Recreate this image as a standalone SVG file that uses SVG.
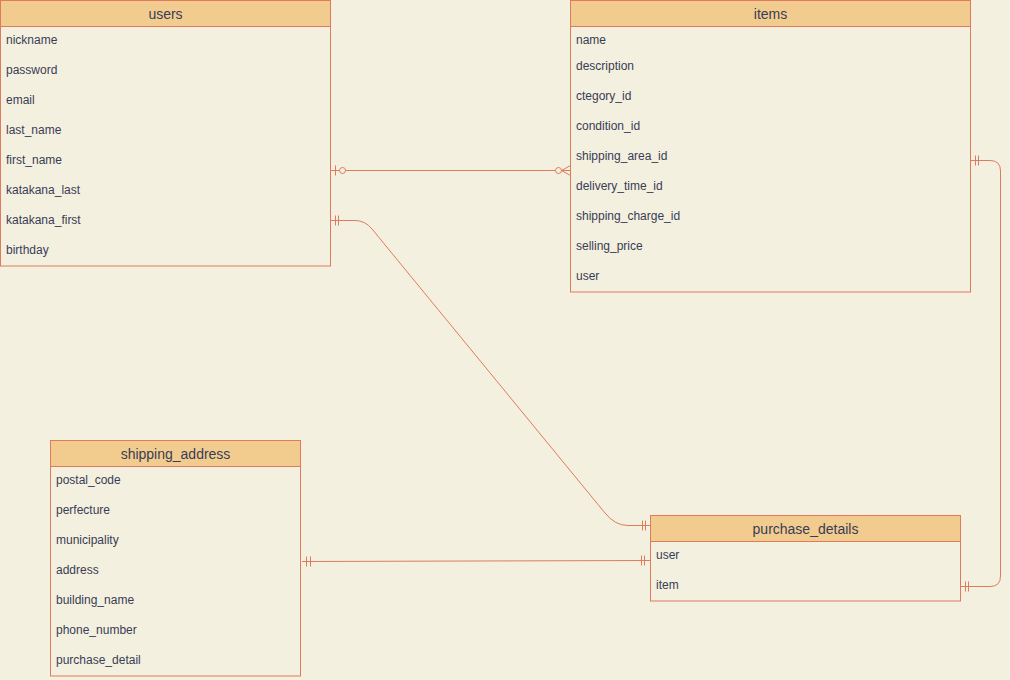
<svg xmlns="http://www.w3.org/2000/svg" width="1010" height="680" viewBox="0 0 1010 680">
<style>
.box{fill:#F4F0DF;stroke:#E07A5F;stroke-width:1}
.hdr{fill:#F2CC8F;stroke:#E07A5F;stroke-width:1}
.t{font-family:"Liberation Sans",Arial,sans-serif;font-size:12px;fill:#393C56}
.h{font-family:"Liberation Sans",Arial,sans-serif;font-size:14px;fill:#393C56;text-anchor:middle}
.c{fill:none;stroke:#E07A5F;stroke-width:1}
.o{fill:#F4F0DF;stroke:#E07A5F;stroke-width:1}
</style>
<rect width="1010" height="680" fill="#F4F0DF"/>
<g id="users">
<rect class="box" x="0.5" y="0.5" width="330" height="265.5"/>
<rect class="hdr" x="0.5" y="0.5" width="330" height="26"/>
<text class="h" x="165.5" y="19">users</text>
<text class="t" x="6" y="44">nickname</text>
<text class="t" x="6" y="74">password</text>
<text class="t" x="6" y="104">email</text>
<text class="t" x="6" y="134">last_name</text>
<text class="t" x="6" y="164">first_name</text>
<text class="t" x="6" y="194">katakana_last</text>
<text class="t" x="6" y="224">katakana_first</text>
<text class="t" x="6" y="254">birthday</text>
</g>
<g id="items">
<rect class="box" x="570.5" y="0.5" width="400" height="291.5"/>
<rect class="hdr" x="570.5" y="0.5" width="400" height="26"/>
<text class="h" x="770.5" y="19">items</text>
<text class="t" x="576" y="44">name</text>
<text class="t" x="576" y="70">description</text>
<text class="t" x="576" y="100">ctegory_id</text>
<text class="t" x="576" y="130">condition_id</text>
<text class="t" x="576" y="160">shipping_area_id</text>
<text class="t" x="576" y="190">delivery_time_id</text>
<text class="t" x="576" y="220">shipping_charge_id</text>
<text class="t" x="576" y="250">selling_price</text>
<text class="t" x="576" y="280">user</text>
</g>
<g id="shipping_address">
<rect class="box" x="50.5" y="440.5" width="250" height="235.5"/>
<rect class="hdr" x="50.5" y="440.5" width="250" height="26"/>
<text class="h" x="175.5" y="459">shipping_address</text>
<text class="t" x="56" y="484">postal_code</text>
<text class="t" x="56" y="514">perfecture</text>
<text class="t" x="56" y="544">municipality</text>
<text class="t" x="56" y="574">address</text>
<text class="t" x="56" y="604">building_name</text>
<text class="t" x="56" y="634">phone_number</text>
<text class="t" x="56" y="664">purchase_detail</text>
</g>
<g id="purchase_details">
<rect class="box" x="650.5" y="515.5" width="310" height="85.5"/>
<rect class="hdr" x="650.5" y="515.5" width="310" height="26"/>
<text class="h" x="805.5" y="534">purchase_details</text>
<text class="t" x="656" y="559">user</text>
<text class="t" x="656" y="589">item</text>
</g>
<g id="connectors">
<!-- users - items -->
<path class="c" d="M330.5 170.5 H558"/>
<path class="c" d="M335.5 165.5 V175.5"/>
<circle class="o" cx="342.5" cy="170.5" r="3"/>
<circle class="o" cx="558.5" cy="170.5" r="3"/>
<path class="c" d="M561.5 170.5 L570.5 165.5 M561.5 170.5 L570.5 175.5 M561.5 170.5 H570.5"/>
<!-- users katakana_first - purchase_details -->
<path class="c" d="M330.5 220.5 H355 Q365 220.5 372 229 L605 513 Q615 525.5 628 525.5 H650.5"/>
<path class="c" d="M335.5 215.5 V225.5 M338.5 215.5 V225.5"/>
<path class="c" d="M642.5 520.5 V530.5 M645.5 520.5 V530.5"/>
<!-- items - purchase_details item -->
<path class="c" d="M970.5 160.5 H990 Q1000.5 160.5 1000.5 171 V576 Q1000.5 586.5 990 586.5 H960.5"/>
<path class="c" d="M975.5 155.5 V165.5 M978.5 155.5 V165.5"/>
<path class="c" d="M965.5 581.5 V591.5 M968.5 581.5 V591.5"/>
<!-- shipping_address - purchase_details -->
<path class="c" d="M302 561.5 L650.5 560.5"/>
<path class="c" d="M306.5 556.5 V566.5 M310.5 556.5 V566.5"/>
<path class="c" d="M641.5 555.5 V565.5 M644.5 555.5 V565.5"/>
</g>
</svg>
